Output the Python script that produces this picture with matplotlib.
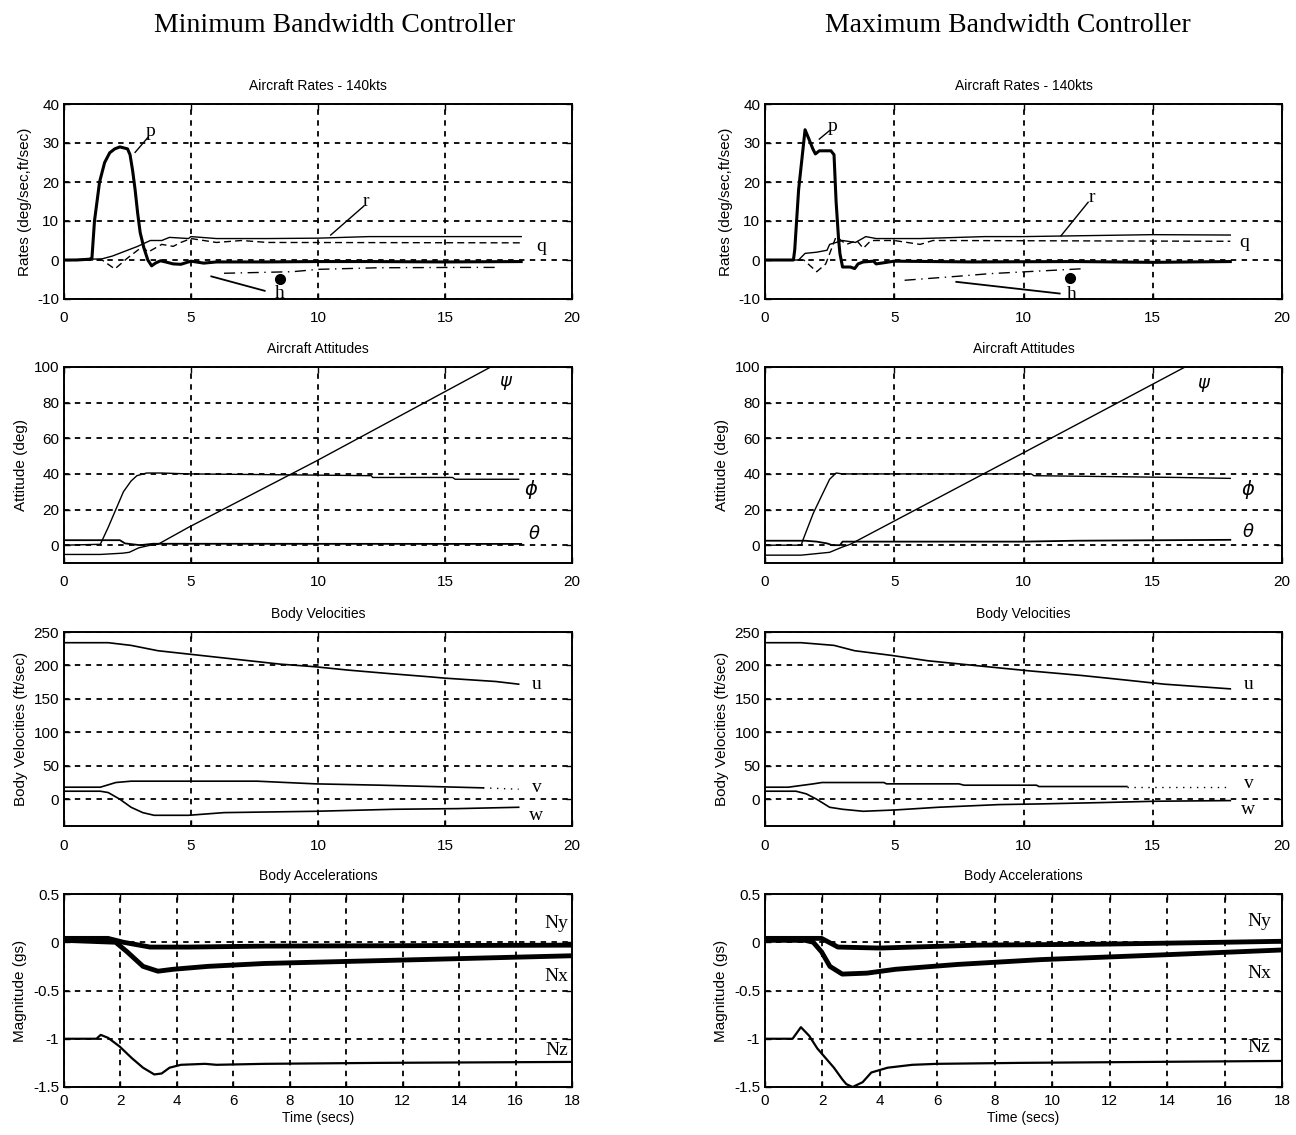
import matplotlib
matplotlib.use('Agg')
import matplotlib.pyplot as plt

plt.rcParams['font.family'] = ['Liberation Sans', 'DejaVu Sans']
plt.rcParams['axes.unicode_minus'] = False

# ---------------- Aircraft rates (deg/sec, ft/sec) ----------------
MIN_P_T = [0, 0.5, 1.0, 1.1, 1.2, 1.4, 1.6, 1.8, 2.0, 2.2, 2.5, 2.6, 2.7, 2.8, 2.9,
           3.0, 3.15, 3.3, 3.45, 3.6, 3.8, 4.0, 4.3, 4.6, 5.0, 5.5, 6, 8, 10, 12, 15, 18]
MIN_P = [0, 0, 0.2, 0.5, 10, 20, 25, 27.5, 28.5, 29, 28.5, 27, 23, 18, 12,
         7, 3, 0, -1.5, -0.8, -0.2, -0.5, -1.0, -1.1, -0.3, -0.8, -0.5, -0.5, -0.4, -0.4, -0.5, -0.4]
MIN_R_T = [0, 1.5, 1.9, 2.3, 2.9, 3.4, 3.85, 4.15, 4.9, 5.0, 6, 8, 10, 12, 18]
MIN_R = [0, 0.3, 1, 2, 3.5, 5, 5, 5.8, 5.5, 6, 5.5, 5.5, 5.6, 6, 6]
MIN_Q_T = [0, 1.5, 2.0, 2.5, 3.1, 3.3, 3.85, 4.3, 4.6, 5.0, 6, 7, 8, 18]
MIN_Q = [0, 0, -2.3, 0.5, 3.5, 2, 4, 3.5, 4.5, 5.5, 4.5, 5, 4.5, 4.4]
MIN_HDOT_T = [6.3, 9.0, 10.0, 12.3, 15.6, 17.1]
MIN_HDOT = [-3.4, -3.0, -2.4, -2.0, -1.9, -1.9]

MAX_P_T = [0, 1.1, 1.15, 1.3, 1.55, 1.7, 1.85, 1.95, 2.1, 2.3, 2.55, 2.67, 2.75, 2.85,
           2.9, 3.0, 3.3, 3.47, 3.6, 3.8, 4.2, 4.3, 5, 8, 12, 15, 18]
MAX_P = [0, 0, 2.6, 18, 33.4, 31, 28.5, 27.2, 28, 28, 28, 27, 15, 5,
         1.6, -1.8, -1.8, -2.2, -1.0, -0.5, -0.3, -1.0, -0.3, -0.5, -0.4, -0.6, -0.4]
MAX_R_T = [0, 1.3, 1.55, 2.0, 2.4, 2.5, 3.0, 3.5, 3.9, 4.3, 5.1, 6, 8.5, 10, 15, 18]
MAX_R = [0, 0, 1.7, 2, 2.5, 4, 5, 4.5, 6, 5.5, 5.5, 5.5, 6, 6, 6.5, 6.4]
MAX_Q_T = [0, 1.5, 2.0, 2.35, 2.75, 3.15, 3.55, 3.8, 4.1, 5.0, 6, 6.5, 18]
MAX_Q = [0, 0, -3, -1, 6, 4, 5, 3, 5, 5, 4, 5, 4.8]
MAX_HDOT_T = [5.4, 7.4, 8.7, 12.4]
MAX_HDOT = [-5.2, -4.2, -3.5, -2.2]

# ---------------- Aircraft attitudes (deg) ----------------
MIN_PSI_T = [0, 1.43, 2.3, 2.57, 2.94, 3.4, 3.7, 4.9, 9.9, 16.8]
MIN_PSI = [-5.2, -5.2, -4.5, -4, -1.5, 0, 0.5, 10, 47, 100]
MIN_PHI_T = [0, 1.43, 1.74, 2.04, 2.34, 2.64, 2.87, 3.25, 3.85, 4.9, 8.7, 12.1, 12.15,
             15.3, 15.4, 17.9]
MIN_PHI = [0, 0.5, 10, 20, 30, 36, 39, 40.5, 40.5, 40, 39.5, 39, 38, 38, 37, 37]
MIN_THETA_T = [0, 2.2, 2.4, 3.0, 3.5, 18]
MIN_THETA = [2.8, 2.8, 1, 0, 0.8, 0.7]

MAX_PSI_T = [0, 1.4, 2.5, 3.0, 3.3, 11.45, 16.25]
MAX_PSI = [-5.6, -5.6, -4, -1, 0.5, 63, 100]
MAX_PHI_T = [0, 1.4, 1.47, 1.87, 2.2, 2.5, 2.75, 3.0, 10.3, 10.4, 13.3, 16, 18]
MAX_PHI = [0, 0, 3, 18, 28, 37, 40.5, 40, 40, 39, 38.5, 38, 37.5]
MAX_THETA_T = [0, 1.55, 2.0, 2.4, 2.6, 2.9, 3.0, 10, 12, 18]
MAX_THETA = [2.5, 2.5, 2, 1, 0, 0, 2, 2, 2.5, 3]

# ---------------- Body velocities (ft/sec) ----------------
MIN_U_T = [0, 1.74, 2.64, 3.7, 4.9, 6.1, 7.3, 8.5, 9.9, 11.2, 12.75, 14.4, 15, 17, 17.9]
MIN_U = [234, 234, 230, 222, 217, 212, 207, 202, 198, 193, 188, 183, 181, 176, 172]
MIN_V_T = [0, 1.43, 2.04, 2.64, 7.6, 9.9, 12.45, 15.5, 16.5]
MIN_V = [18, 18, 25, 27, 27, 23, 21, 18, 17]
MIN_V_TAIL_T = [16.5, 17.9]
MIN_V_TAIL = [17, 15]
MIN_W_T = [0, 1.43, 1.74, 2.2, 2.64, 3.1, 3.55, 4.9, 6.3, 9.9, 13, 15.5, 17.9]
MIN_W = [12, 12, 10, 0, -12, -20, -24, -24, -20, -18, -15, -14, -12]

MAX_U_T = [0, 1.4, 2.67, 3.47, 4.9, 6.3, 8.1, 10.2, 12.25, 14, 15.45, 18]
MAX_U = [234, 234, 230, 222, 215, 207, 200, 192, 185, 178, 172, 165]
MAX_V_T = [0, 0.9, 1.87, 2.2, 4.6, 4.7, 7.5, 7.7, 10.5, 10.6, 14]
MAX_V = [18, 18, 23, 25, 25, 23, 23, 21, 21, 19, 19]
MAX_V_TAIL_T = [14, 18]
MAX_V_TAIL = [19, 19]
MAX_W_T = [0, 1.2, 1.6, 2.0, 2.5, 3.0, 3.8, 5.05, 6.7, 9.05, 10.65, 13, 15.1, 18]
MAX_W = [12, 12, 8, 0, -12, -15, -18, -16, -12, -8, -7, -5, -3, -2]

# ---------------- Body accelerations (gs) ----------------
MIN_NY_T = [0, 1.56, 2.1, 3.05, 4.4, 7.1, 18]
MIN_NY = [0.04, 0.04, 0, -0.05, -0.05, -0.04, -0.03]
MIN_NX_T = [0, 1.83, 2.24, 2.8, 3.33, 3.87, 5.1, 7.1, 9.85, 12.6, 15.3, 18]
MIN_NX = [0.02, 0, -0.1, -0.25, -0.3, -0.28, -0.25, -0.22, -0.2, -0.18, -0.16, -0.14]
MIN_NZ_T = [0, 1.15, 1.3, 1.56, 1.97, 2.4, 2.8, 3.2, 3.46, 3.74, 4.14, 5, 5.4, 7.1, 11.2, 18]
MIN_NZ = [-1, -1, -0.96, -0.99, -1.08, -1.2, -1.3, -1.37, -1.36, -1.3, -1.27, -1.26,
          -1.27, -1.26, -1.25, -1.24]

MAX_NY_T = [0, 1.97, 2.54, 4.0, 7.4, 11.7, 16, 18]
MAX_NY = [0.04, 0.04, -0.05, -0.06, -0.03, -0.02, 0, 0.01]
MAX_NX_T = [0, 1.4, 1.68, 1.97, 2.26, 2.69, 3.55, 4.55, 6.7, 9.6, 13.9, 18]
MAX_NX = [0.02, 0.02, 0, -0.1, -0.25, -0.33, -0.32, -0.28, -0.23, -0.18, -0.13, -0.08]
MAX_NZ_T = [0, 0.96, 1.25, 1.54, 1.82, 2.11, 2.4, 2.69, 2.83, 3.05, 3.4, 3.7, 4.27,
            5.13, 5.99, 8.87, 18]
MAX_NZ = [-1, -1, -0.88, -0.97, -1.1, -1.2, -1.3, -1.42, -1.47, -1.5, -1.45, -1.35,
          -1.3, -1.27, -1.26, -1.25, -1.23]

SERIF = ['Liberation Serif', 'DejaVu Serif']

fig = plt.figure(figsize=(12.96, 11.35), dpi=100)

COL_LEFT = [64 / 1296, 765 / 1296]
COL_W = [508 / 1296, 517 / 1296]
ROWS = [(299, 104), (563, 367), (826, 632), (1087, 894)]


def make_ax(col, row):
    bot, top = ROWS[row]
    ax = fig.add_axes([COL_LEFT[col], 1 - bot / 1135, COL_W[col], (bot - top) / 1135])
    for s in ax.spines.values():
        s.set_linewidth(1.4)
    ax.tick_params(direction='in', labelsize=11, length=4, width=1, top=True, right=True)
    ax.tick_params(axis='x', pad=9)
    ax.grid(True, color='black', linestyle=(0, (3, 3)), linewidth=1.3)
    return ax


def label(ax, x, y, s, size=14, **kw):
    ax.text(x, y, s, family=SERIF, fontsize=size, ha='center', va='center', **kw)


fig.text(335 / 1296, 1 - 25 / 1135, 'Minimum Bandwidth Controller', family=SERIF,
         fontsize=20, ha='center', va='center')
fig.text(1008 / 1296, 1 - 25 / 1135, 'Maximum Bandwidth Controller', family=SERIF,
         fontsize=20, ha='center', va='center')

rates = [
    (MIN_P_T, MIN_P, MIN_R_T, MIN_R, MIN_Q_T, MIN_Q, MIN_HDOT_T, MIN_HDOT),
    (MAX_P_T, MAX_P, MAX_R_T, MAX_R, MAX_Q_T, MAX_Q, MAX_HDOT_T, MAX_HDOT),
]
# label positions (annotation only)
rate_lbl = [
    dict(p=(3.4, 33), pl=((2.8, 27.6), (3.3, 31.4)), r=(11.9, 15), rl=((10.5, 6.4), (11.8, 13.8)),
         q=(18.8, 3.4), h=(8.5, -8.6), hd=(8.5, -4.8), hl=((5.8, -4.2), (7.9, -7.9))),
    dict(p=(2.6, 34.3), pl=((2.1, 31.0), (2.5, 33.2)), r=(12.65, 16), rl=((11.45, 6.2), (12.5, 14.8)),
         q=(18.55, 4.6), h=(11.85, -8.8), hd=(11.8, -4.5), hl=((7.4, -5.6), (11.4, -8.6))),
]

for col in range(2):
    pt, p, rt, r, qt, q, ht, h = rates[col]
    L = rate_lbl[col]
    ax = make_ax(col, 0)
    ax.plot(rt, r, color='black', lw=1.0)
    ax.plot(qt, q, color='black', lw=1.0, linestyle=(0, (5, 3)))
    ax.plot(pt, p, color='black', lw=2.2)
    ax.plot(ht, h, color='black', lw=1.0, linestyle=(0, (8, 4, 1, 4)))
    ax.set_xlim(0, 20)
    ax.set_ylim(-10, 40)
    ax.set_xticks([0, 5, 10, 15, 20])
    ax.set_yticks([-10, 0, 10, 20, 30, 40])
    ax.set_title('Aircraft Rates - 140kts', fontsize=10, pad=10)
    ax.set_ylabel('Rates (deg/sec,ft/sec)', fontsize=11)
    label(ax, *L['p'], 'p')
    ax.plot(*zip(*L['pl']), color='black', lw=1)
    label(ax, *L['r'], 'r')
    ax.plot(*zip(*L['rl']), color='black', lw=1)
    label(ax, *L['q'], 'q')
    label(ax, *L['h'], 'h')
    ax.plot(*L['hd'], marker='o', color='black', ms=7)
    ax.plot(*zip(*L['hl']), color='black', lw=1.3)

att = [
    (MIN_PSI_T, MIN_PSI, MIN_PHI_T, MIN_PHI, MIN_THETA_T, MIN_THETA),
    (MAX_PSI_T, MAX_PSI, MAX_PHI_T, MAX_PHI, MAX_THETA_T, MAX_THETA),
]
att_lbl = [((17.4, 91), (18.4, 31), (18.5, 6)), ((17.0, 90), (18.7, 31), (18.7, 7.5))]
for col in range(2):
    st, s, ft, f, tt, th = att[col]
    ax = make_ax(col, 1)
    ax.plot(st, s, color='black', lw=1.0)
    ax.plot(ft, f, color='black', lw=1.0)
    ax.plot(tt, th, color='black', lw=1.3)
    ax.set_xlim(0, 20)
    ax.set_ylim(-10, 100)
    ax.set_xticks([0, 5, 10, 15, 20])
    ax.set_yticks([0, 20, 40, 60, 80, 100])
    ax.set_title('Aircraft Attitudes', fontsize=10, pad=10)
    ax.set_ylabel('Attitude (deg)', fontsize=11)
    a, b, c = att_lbl[col]
    label(ax, *a, r'$\psi$', size=13)
    label(ax, *b, r'$\phi$', size=14)
    label(ax, *c, r'$\theta$', size=13)

vel = [
    (MIN_U_T, MIN_U, MIN_V_T, MIN_V, MIN_V_TAIL_T, MIN_V_TAIL, MIN_W_T, MIN_W),
    (MAX_U_T, MAX_U, MAX_V_T, MAX_V, MAX_V_TAIL_T, MAX_V_TAIL, MAX_W_T, MAX_W),
]
vel_lbl = [((18.6, 172), (18.6, 17), (18.6, -24)), ((18.7, 171), (18.7, 24), (18.7, -15))]
for col in range(2):
    ut, u, vt, v, vtt, vtl, wt, w = vel[col]
    ax = make_ax(col, 2)
    ax.plot(ut, u, color='black', lw=1.2)
    ax.plot(vt, v, color='black', lw=1.2)
    ax.plot(vtt, vtl, color='black', lw=1.0, linestyle=(0, (1, 4)))
    ax.plot(wt, w, color='black', lw=1.2)
    ax.set_xlim(0, 20)
    ax.set_ylim(-40, 250)
    ax.set_xticks([0, 5, 10, 15, 20])
    ax.set_yticks([0, 50, 100, 150, 200, 250])
    ax.set_title('Body Velocities', fontsize=10, pad=10)
    ax.set_ylabel('Body Velocities (ft/sec)', fontsize=11)
    a, b, c = vel_lbl[col]
    label(ax, *a, 'u')
    label(ax, *b, 'v')
    label(ax, *c, 'w')

acc = [
    (MIN_NY_T, MIN_NY, MIN_NX_T, MIN_NX, MIN_NZ_T, MIN_NZ),
    (MAX_NY_T, MAX_NY, MAX_NX_T, MAX_NX, MAX_NZ_T, MAX_NZ),
]
acc_lbl = [((17.46, 0.19), (17.46, -0.35), (17.46, -1.12)),
           ((17.2, 0.22), (17.2, -0.32), (17.2, -1.09))]
for col in range(2):
    yt, ny, xt, nx, zt, nz = acc[col]
    ax = make_ax(col, 3)
    ax.tick_params(axis='x', pad=5)
    ax.plot(yt, ny, color='black', lw=3.5)
    ax.plot(xt, nx, color='black', lw=3.5)
    ax.plot(zt, nz, color='black', lw=1.6)
    ax.set_xlim(0, 18)
    ax.set_ylim(-1.5, 0.5)
    ax.set_xticks(range(0, 19, 2))
    ax.set_yticks([-1.5, -1, -0.5, 0, 0.5])
    ax.set_yticklabels(['-1.5', '-1', '-0.5', '0', '0.5'])
    ax.set_title('Body Accelerations', fontsize=10, pad=10)
    ax.set_ylabel('Magnitude (gs)', fontsize=11)
    ax.set_xlabel('Time (secs)', fontsize=10, labelpad=2)
    a, b, c = acc_lbl[col]
    label(ax, *a, 'Ny')
    label(ax, *b, 'Nx')
    label(ax, *c, 'Nz')

fig.savefig('out.png', dpi=100, facecolor='white')
